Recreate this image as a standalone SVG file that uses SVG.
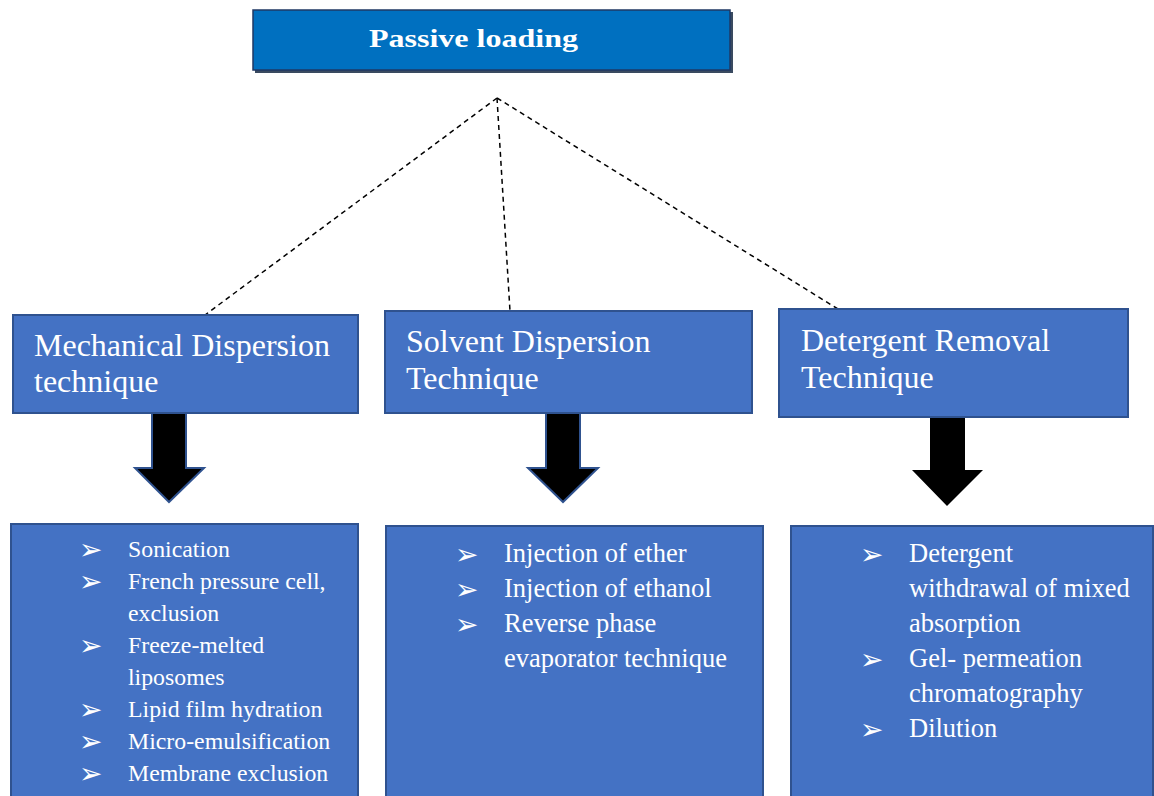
<svg xmlns="http://www.w3.org/2000/svg" width="1154" height="796" viewBox="0 0 1154 796">
<style>
.box{fill:#4472C4;stroke:#2F528F;stroke-width:2}
.hd{font-family:"Liberation Serif","Times New Roman",serif;font-size:32px;fill:#fff}
.it{font-family:"Liberation Serif","Times New Roman",serif;fill:#fff}
.bl{font-family:"DejaVu Sans",sans-serif;fill:#fff}
.dash{stroke:#000;stroke-width:1.5;stroke-dasharray:5,4;fill:none}
.arr{fill:#000;stroke:#2F528F;stroke-width:2}
</style>
<rect width="1154" height="796" fill="#fff"/>
<g id="connectors">
<line class="dash" x1="497" y1="98" x2="205" y2="315"/>
<line class="dash" x1="497" y1="98" x2="510" y2="311"/>
<line class="dash" x1="497" y1="98" x2="838" y2="309"/>
<path class="arr" d="M152,413 H186 V468 H204 L169,502 L135,468 H152 Z"/>
<path class="arr" d="M546,413 H580 V468 H598 L563,502 L528,468 H546 Z"/>
<path fill="#000" d="M930,417 H965 V470 H983 L947,506 L912,470 H930 Z"/>
</g>
<g id="passive-loading">
<rect x="255" y="12" width="478" height="61" fill="#3a4a60"/>
<rect x="253" y="10" width="477" height="60" fill="#0070C0" stroke="#1F3864" stroke-width="1.5"/>
<text x="369" y="47" textLength="209" lengthAdjust="spacingAndGlyphs" font-family="Liberation Serif,Times New Roman,serif" font-weight="bold" font-size="25" fill="#fff">Passive loading</text>
</g>
<g id="mechanical">
<rect class="box" x="13" y="315" width="345" height="98"/>
<text class="hd" x="34" y="356">Mechanical Dispersion</text>
<text class="hd" x="34" y="392">technique</text>
</g>
<g id="solvent">
<rect class="box" x="385" y="311" width="367" height="102"/>
<text class="hd" x="406" y="352">Solvent Dispersion</text>
<text class="hd" x="406" y="389">Technique</text>
</g>
<g id="detergent">
<rect class="box" x="779" y="309" width="349" height="108"/>
<text class="hd" x="801" y="351">Detergent Removal</text>
<text class="hd" x="801" y="388">Technique</text>
</g>
<g id="mechanical-list">
<rect class="box" x="11" y="524" width="347" height="280"/>
<g class="bl" font-size="28">
<text x="79" y="559">➢</text><text x="79" y="591">➢</text><text x="79" y="655">➢</text><text x="79" y="719">➢</text><text x="79" y="751">➢</text><text x="79" y="783">➢</text>
</g>
<g class="it" font-size="23.8">
<text x="128" y="557">Sonication</text>
<text x="128" y="589">French pressure cell,</text>
<text x="128" y="621">exclusion</text>
<text x="128" y="653">Freeze-melted</text>
<text x="128" y="685">liposomes</text>
<text x="128" y="717">Lipid film hydration</text>
<text x="128" y="749">Micro-emulsification</text>
<text x="128" y="781">Membrane exclusion</text>
</g>
</g>
<g id="solvent-list">
<rect class="box" x="386" y="526" width="377" height="280"/>
<g class="bl" font-size="28">
<text x="455" y="564">➢</text><text x="455" y="599">➢</text><text x="455" y="634">➢</text>
</g>
<g class="it" font-size="26.5">
<text x="504" y="562">Injection of ether</text>
<text x="504" y="597">Injection of ethanol</text>
<text x="504" y="632">Reverse phase</text>
<text x="504" y="667">evaporator technique</text>
</g>
</g>
<g id="detergent-list">
<rect class="box" x="791" y="526" width="362" height="280"/>
<g class="bl" font-size="28">
<text x="860" y="564">➢</text><text x="860" y="669">➢</text><text x="860" y="739">➢</text>
</g>
<g class="it" font-size="26.5">
<text x="909" y="562">Detergent</text>
<text x="909" y="597">withdrawal of mixed</text>
<text x="909" y="632">absorption</text>
<text x="909" y="667">Gel- permeation</text>
<text x="909" y="702">chromatography</text>
<text x="909" y="737">Dilution</text>
</g>
</g>
</svg>
